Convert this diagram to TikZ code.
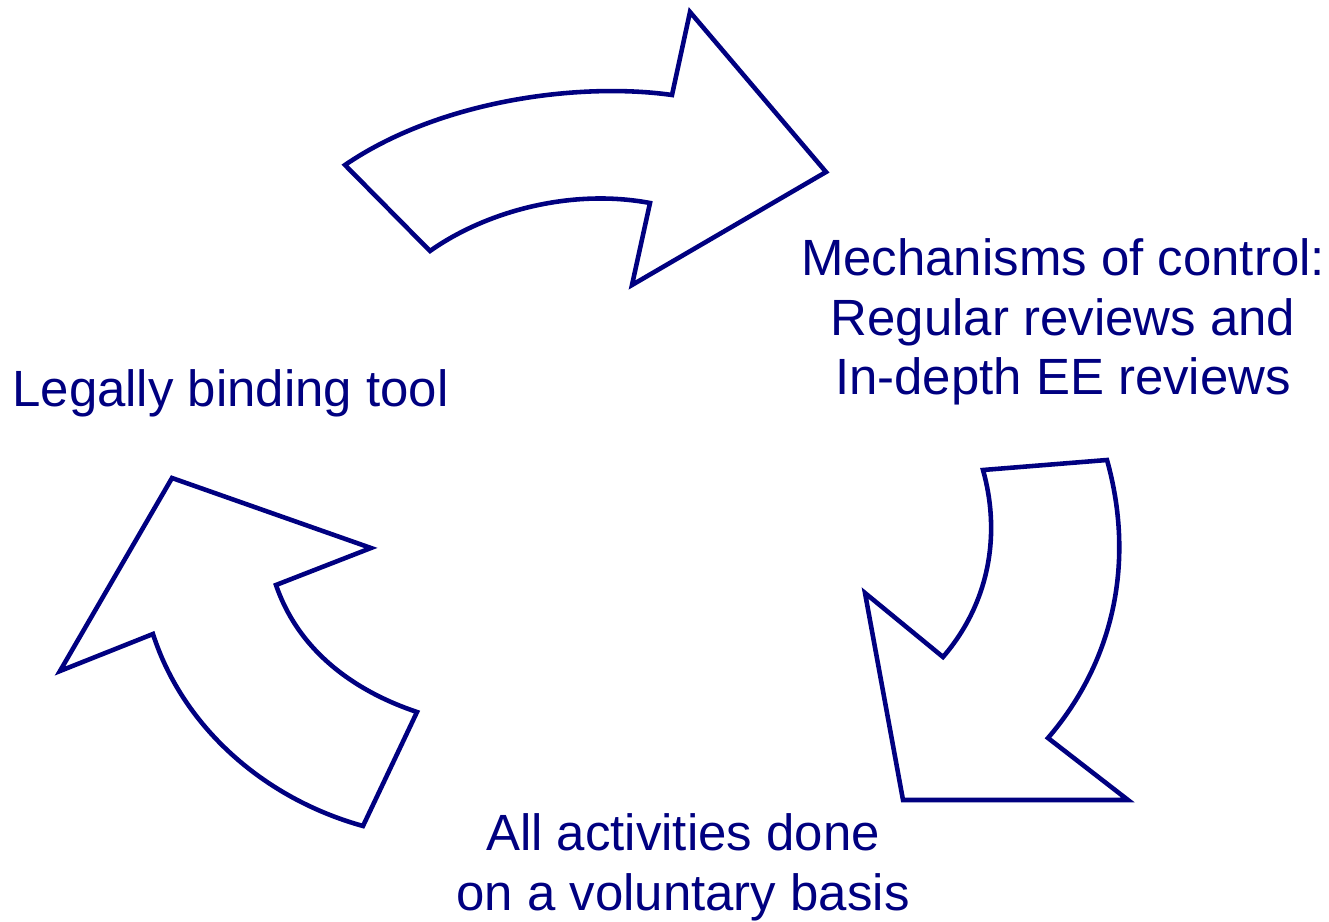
\documentclass[tikz,border=0pt]{standalone}
\usepackage{fontspec}
\setmainfont{Liberation Sans}
\usepackage{tikz}

\definecolor{navy}{RGB}{0,0,128}
\tikzset{
  bentarrow/.style={draw=navy, line width=2.6pt, line join=miter, fill=white},
  cyclelabel/.style={text=navy, font=\fontsize{29}{34}\selectfont, align=center, inner sep=0pt}
}

\begin{document}
\begin{tikzpicture}[x=0.02cm, y=-0.02cm]
    \useasboundingbox (0,0) rectangle (1329,922);

    % top arrow
    \draw[bentarrow] (345,165) .. controls (440,100) and (580,82) .. (672,95)
        -- (690,12) -- (826,172) -- (632,285) -- (650,203)
        .. controls (570,188) and (485,212) .. (430,251) -- cycle;

    % right arrow
    \draw[bentarrow] (983,470) -- (1107,460)
        .. controls (1135,560) and (1115,660) .. (1048,738)
        -- (1128,800) -- (903,800) -- (865,593) -- (943,657)
        .. controls (992,600) and (1000,530) .. cycle;

    % left arrow
    \draw[bentarrow] (417,712) -- (363,826)
        .. controls (262,798) and (182,725) .. (153,634)
        -- (60,671) -- (172,478) -- (371,548) -- (276,585)
        .. controls (300,655) and (360,693) .. cycle;

    % labels
    \node[cyclelabel, anchor=west] (legal) at (12,393) {Legally binding tool};
    \node[cyclelabel] (control) at (1063,322) {Mechanisms of control:\\Regular reviews and\\In-depth EE reviews};
    \node[cyclelabel] (voluntary) at (683,867) {All activities done\\on a voluntary basis};
\end{tikzpicture}
\end{document}
